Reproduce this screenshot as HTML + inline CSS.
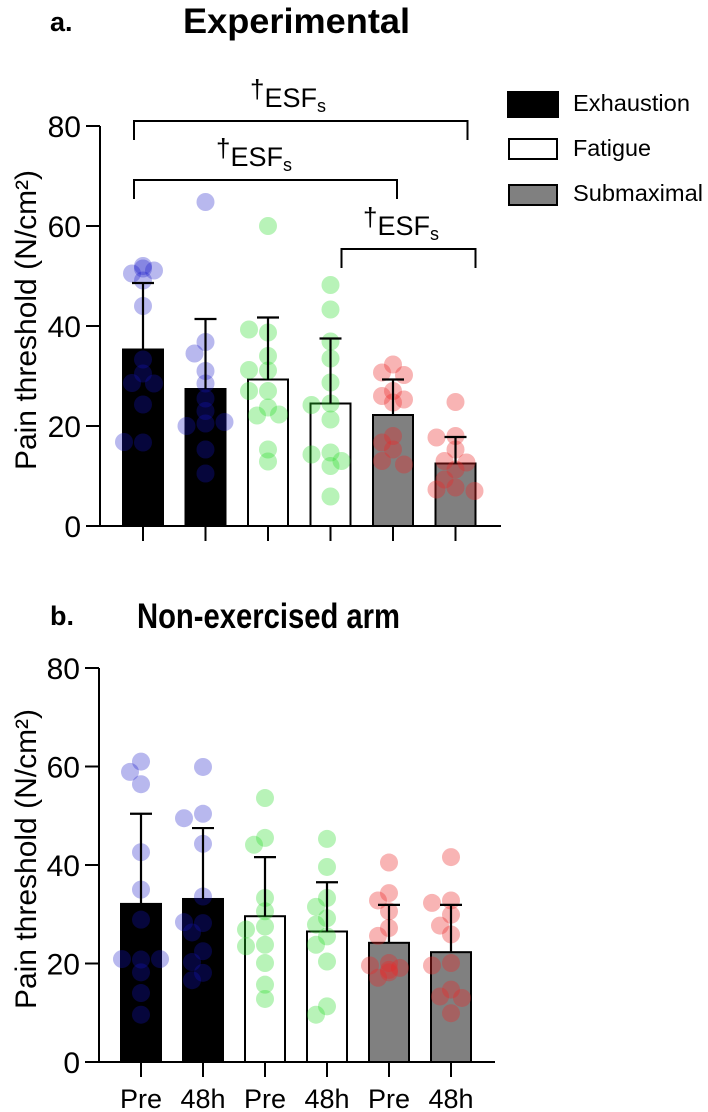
<!DOCTYPE html>
<html><head><meta charset="utf-8"><style>
html,body{margin:0;padding:0;background:#fff;}
svg{display:block;font-family:"Liberation Sans",Arial,sans-serif;}
</style></head><body>
<svg id="fig" width="708" height="1112" viewBox="0 0 708 1112" xmlns="http://www.w3.org/2000/svg">
<text x="50" y="31" font-size="27" font-weight="bold">a.</text>
<text x="183" y="33" font-size="35" font-weight="bold" textLength="227" lengthAdjust="spacingAndGlyphs">Experimental</text>
<text x="50" y="625" font-size="27" font-weight="bold">b.</text>
<text x="137" y="628" font-size="35" font-weight="bold" textLength="263" lengthAdjust="spacingAndGlyphs">Non-exercised arm</text>
<g>
<rect x="508" y="92" width="50" height="25" fill="#000" stroke="#000" stroke-width="2"/>
<text x="573" y="111" font-size="23" textLength="117" lengthAdjust="spacingAndGlyphs">Exhaustion</text>
<rect x="509" y="139" width="48" height="20" fill="#fff" stroke="#000" stroke-width="2"/>
<text x="573" y="156" font-size="23" textLength="78" lengthAdjust="spacingAndGlyphs">Fatigue</text>
<rect x="509" y="185" width="48" height="20" fill="#808080" stroke="#000" stroke-width="2"/>
<text x="573" y="201" font-size="23" textLength="130" lengthAdjust="spacingAndGlyphs">Submaximal</text>
</g>
<g id="topPanel"></g>
<g id="botPanel"></g>
</svg>
<script>
const groups = ["Exhaustion Pre","Exhaustion 48h","Fatigue Pre","Fatigue 48h","Submaximal Pre","Submaximal 48h"];
const xLabels = ["Pre","48h","Pre","48h","Pre","48h"];
const yTicks = [0,20,40,60,80];
const fills = ["#000","#000","#fff","#fff","#808080","#808080"];
const dotColors = ["rgba(20,20,200,0.3)","rgba(20,20,200,0.3)","rgba(40,220,40,0.33)","rgba(40,220,40,0.33)","rgba(235,40,40,0.35)","rgba(235,40,40,0.35)"];

const expMeans = [35.3,27.4,29.3,24.5,22.2,12.5];
const expSD = [48.6,41.4,41.7,37.5,29.3,17.8];
const expPoints = [
 [49.1,50.5,51.1,52,51.5,44,33.3,30.5,28.6,28.5,24.3,16.7,16.8],
 [64.8,36.8,34.5,31,28.5,25.5,23,20.5,20,20.8,15.3,10.5],
 [60,38.7,39.3,34,31.1,31.2,27,27,23.7,22.1,22.3,15.3,12.9],
 [48.2,43.3,36.9,33.5,28.7,24.5,24.2,21.3,14.7,14.3,13,12,5.9],
 [32.3,30.7,30.2,27,26,25.3,24.7,18,16.7,15.3,13,12.3],
 [24.8,18,17.7,15.3,13,12.7,11.3,9.3,7.7,7.3,7]
];
const nonMeans = [32.1,33.1,29.6,26.5,24.2,22.3];
const nonSD = [50.4,47.5,41.6,36.5,31.9,31.9];
const nonPoints = [
 [61,58.9,56.4,42.6,35,28.9,20.8,20.9,20.9,18.2,14,9.6],
 [59.9,50.4,49.5,44.3,33.6,28.2,28.4,26.3,22.5,20.3,18.1,16.6],
 [53.6,45.5,44.1,33.3,30.6,27.5,26.9,23.8,23.5,20.1,15.7,12.8],
 [45.3,39.6,33.3,31.5,29.2,27.9,25.5,23.8,20.4,11.3,9.6],
 [40.5,34.3,32.8,30.6,27.2,25.6,20.1,19.6,19.1,18.7,18.2,17.1],
 [41.6,32.8,32.3,29.9,27.7,25.9,20.1,19.6,14.7,13.3,13,9.9]
];
const sigBrackets = [[0,5,1],[0,4,2],[3,5,3]];

const NS="http://www.w3.org/2000/svg";
function mk(parent,tag,attrs){const e=document.createElementNS(NS,tag);for(const k in attrs)e.setAttribute(k,attrs[k]);parent.appendChild(e);return e;}

function drawPanel(g,cfg,means,sds,points,showX){
  const y=v=>cfg.y0-(cfg.y0-cfg.y80)*v/80;
  const x=i=>cfg.x0+cfg.dx*i;
  let l=mk(g,'line',{x1:cfg.ax,y1:cfg.y80,x2:cfg.ax,y2:cfg.y0,stroke:'#000','stroke-width':2});
  
  
  yTicks.forEach(t=>{
    const tk=mk(g,'line',{x1:cfg.ax-14,y1:y(t),x2:cfg.ax,y2:y(t),stroke:'#000','stroke-width':2});
    
    
    const tx=mk(g,'text',{x:cfg.ax-19,y:y(t)+11,'font-size':30,'text-anchor':'end'});
    tx.textContent=t;
    
    
  });
  const yt=mk(g,'text',{x:0,y:0,'font-size':30,'text-anchor':'middle',transform:`translate(36,${(cfg.y0+cfg.y80)/2-6}) rotate(-90)`});
  yt.textContent='Pain threshold (N/cm²)';
  
  
  means.forEach((m,i)=>{
    const b=mk(g,'rect',{x:x(i)-20,y:y(m),width:40,height:cfg.y0-y(m),fill:fills[i],stroke:'#000','stroke-width':2});
    
    
  });
  points.forEach((arr,i)=>{
    const placed=[];
    const cands=[0,-11,11,-19,19,-6,6,-15,15];
    arr.forEach(v=>{
      const py=y(v);let ox=0;
      for(const c of cands){if(placed.every(p=>Math.hypot(p[0]-c,p[1]-py)>=12)){ox=c;break;}}
      placed.push([ox,py]);
      const d=mk(g,'circle',{cx:x(i)+ox,cy:py,r:9,fill:dotColors[i]});
      
      
    });
  });
  sds.forEach((s,i)=>{
    const e=mk(g,'path',{d:`M${x(i)},${y(means[i])}V${y(s)}M${x(i)-11},${y(s)}H${x(i)+11}`,stroke:'#000','stroke-width':2.2,fill:'none'});
    
    
  });
  const xa=mk(g,'line',{x1:cfg.ax-1,y1:cfg.y0,x2:cfg.xEnd,y2:cfg.y0,stroke:'#000','stroke-width':2});
  
  
  groups.forEach((gname,i)=>{
    const tk=mk(g,'line',{x1:x(i),y1:cfg.y0,x2:x(i),y2:cfg.y0+15,stroke:'#000','stroke-width':2});
    
    
    if(showX){
      const t=mk(g,'text',{x:x(i),y:cfg.y0+46,'font-size':27,'text-anchor':'middle'});
      t.textContent=xLabels[i];
      
      
    }
  });
  return {x,y};
}

const topG=document.getElementById('topPanel');
const A=drawPanel(topG,{y0:526,y80:126,ax:100,x0:143,dx:62.5,xEnd:501},expMeans,expSD,expPoints,false);
const bracketY=[0,121,180,249];
const labelX=[0,250,216,363];
const leftOff=[0,-9,-9,11];
const rightOff=[0,12,4,20];
sigBrackets.forEach(([a,b,lv])=>{
  const by=bracketY[lv];
  const p=mk(topG,'path',{d:`M${A.x(a)+leftOff[lv]},${by+19}V${by}H${A.x(b)+rightOff[lv]}V${by+19}`,stroke:'#000','stroke-width':2,fill:'none'});
  
  
  const t=mk(topG,'text',{x:labelX[lv],y:by-14,'font-size':27});
  
  
  const t1=mk(t,'tspan',{dy:-9,'font-size':26});t1.textContent='†';
  const t2=mk(t,'tspan',{dy:9});t2.textContent='ESF';
  const t3=mk(t,'tspan',{dy:5,'font-size':18});t3.textContent='s';
});

const botG=document.getElementById('botPanel');
drawPanel(botG,{y0:1062,y80:668,ax:99,x0:141,dx:62,xEnd:495},nonMeans,nonSD,nonPoints,true);
</script>
</body></html>
